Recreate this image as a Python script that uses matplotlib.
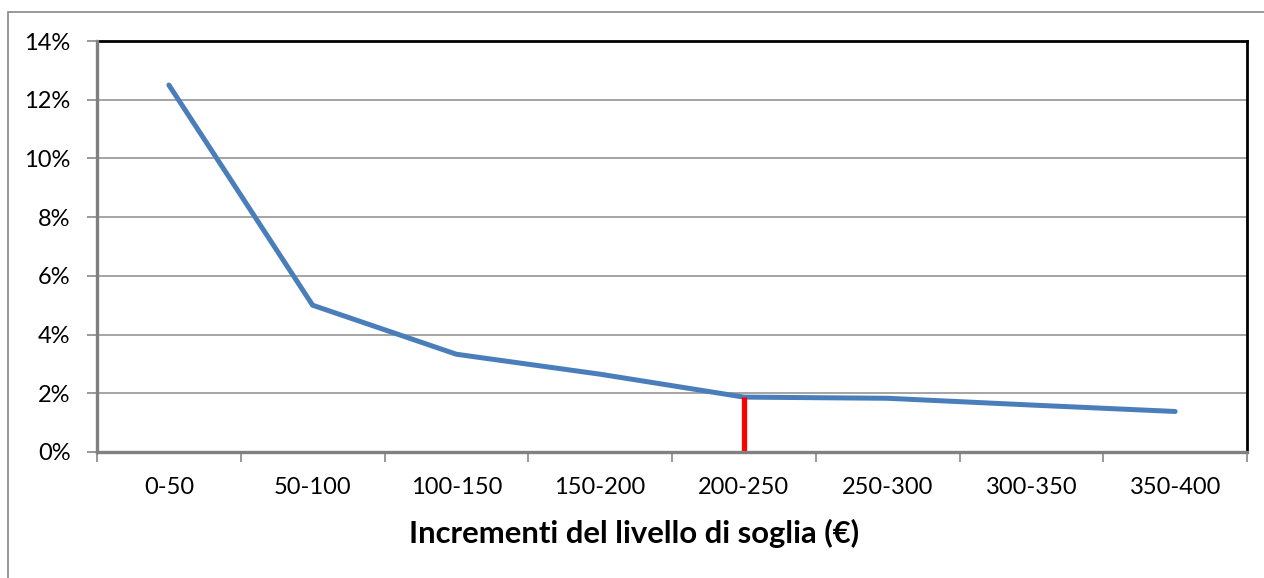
import matplotlib
matplotlib.use("Agg")
import matplotlib.pyplot as plt
from matplotlib.patches import Rectangle
from matplotlib.ticker import FuncFormatter, MultipleLocator
import numpy as np

# ─── data ────────────────────────────────────────────────────────────────
categories = ["0-50", "50-100", "100-150", "150-200",
              "200-250", "250-300", "300-350", "350-400"]
values = [12.5, 5.0, 3.33, 2.65, 1.87, 1.83, 1.6, 1.38]   # percent
marker_cat = "200-250"
marker_val = 1.87
xlabel = "Incrementi del livello di soglia (€)"

plt.rcParams["font.family"] = ["Lato", "DejaVu Sans"]

fig = plt.figure(figsize=(12.64, 5.78), dpi=100)
fig.patch.set_facecolor("white")
# outer chart border (right/bottom edges fall outside the image)
fig.add_artist(Rectangle((8 / 1264, -20 / 578), 1280 / 1264, 586 / 578,
                         transform=fig.transFigure, fill=False,
                         edgecolor="#888888", lw=1.2))

ax = fig.add_axes([97 / 1264, 126 / 578, 1150 / 1264, 411 / 578])
x = np.arange(len(categories))

ax.plot(x, values, color="#4A7EBB", lw=3.6, solid_capstyle="round",
        solid_joinstyle="round", zorder=3)
mi = categories.index(marker_cat)
ax.vlines(x[mi], 0, marker_val, color="#FF0000", lw=3.8, zorder=4)

ax.set_xlim(-0.5, len(categories) - 0.5)
ax.set_ylim(0, 14)
ax.yaxis.set_major_locator(MultipleLocator(2))
ax.yaxis.set_major_formatter(FuncFormatter(lambda v, p: f"{v:.0f}%"))
ax.grid(axis="y", color="#8C8C8C", lw=1.1)
ax.set_axisbelow(True)

ax.set_xticks(x)
ax.set_xticklabels(categories)
ax.set_xticks(np.arange(len(categories) + 1) - 0.5, minor=True)
ax.tick_params(axis="x", which="major", length=0, pad=18, labelsize=17)
ax.tick_params(axis="x", which="minor", length=7, width=1.2, color="#888888")
ax.tick_params(axis="y", length=7, width=1.2, color="#888888", labelsize=17, pad=12)

for side in ("top", "right"):
    ax.spines[side].set_color("black")
    ax.spines[side].set_linewidth(2)
for side in ("left", "bottom"):
    ax.spines[side].set_color("#808080")
    ax.spines[side].set_linewidth(2.4)
    ax.spines[side].set_zorder(5)

ax.set_xlabel(xlabel, fontsize=22.3, fontweight="bold", labelpad=15)
# title sits centred on the whole chart rather than on the plot area
ax.xaxis.label.set_x(0.467)

fig.savefig("out.png", dpi=100, facecolor="white")
